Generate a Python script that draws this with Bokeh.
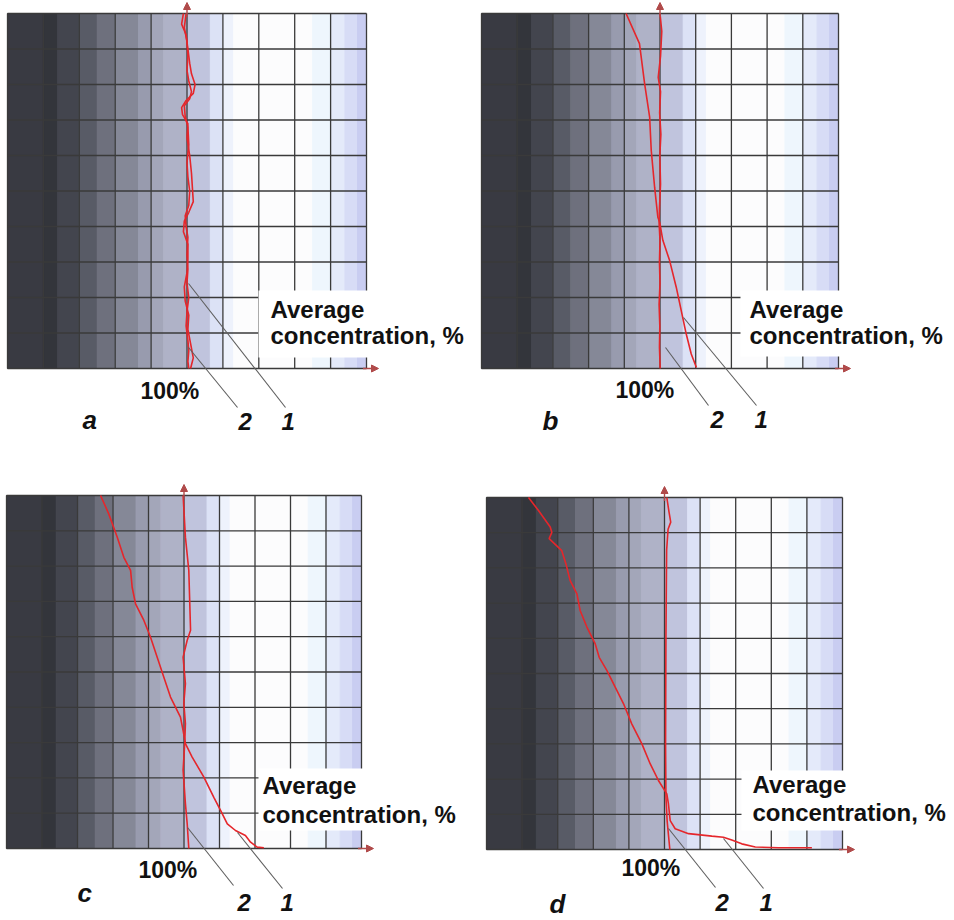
from bokeh.plotting import figure
from bokeh.models import Label, Arrow, NormalHead, BoxAnnotation, Range1d
from bokeh.layouts import gridplot
from bokeh.embed import file_html
from bokeh.resources import INLINE

# ---------------- data ----------------
GRID_X = [0, 20, 40, 60, 80, 100, 120, 140, 160, 180, 200]
GRID_Y = [0, 10, 20, 30, 40, 50, 60, 70, 80, 90, 100]
AXIS_TICK_LABEL = "100%"
AXIS_TITLE = ["Average", "concentration, %"]
CURVE_NAMES = ["1", "2"]
PANEL_LETTERS = ["a", "b", "c", "d"]

# panel a
a_y1 = [100, 97, 94, 90, 86, 83, 80, 77.5, 75.5, 73.5, 71.5, 69, 65, 60, 55, 51, 47, 44, 41.5, 38.5,
        35, 31, 27, 23, 19, 15, 11, 7, 3, 0]
a_x1 = [98.0, 97.0, 99.5, 100.5, 101.5, 102.5, 104.5, 103.5, 99.5, 97.0, 97.5, 100.5, 100.0, 101.5, 102.5,
        103.0, 103.5, 101.0, 98.5, 98.0, 100.5, 100.5, 100.0, 98.5, 99.0, 101.0, 100.5, 102.0, 103.5, 102.0]
a_y2 = [100, 96, 92, 88, 84, 81, 78, 76, 74, 71, 68, 63, 58, 54, 50, 46, 43, 40, 37, 32, 28, 24, 20,
        16, 12, 8, 5, 2, 0]
a_x2 = [99.5, 98.5, 100.0, 100.5, 100.0, 101.0, 102.5, 101.5, 98.5, 99.0, 100.5, 101.0, 100.0, 100.5,
        101.5, 101.0, 99.0, 99.5, 100.5, 100.0, 100.5, 100.0, 101.0, 100.0, 99.5, 100.5, 101.0, 100.5, 101.0]

# panel b
b_y1 = [100, 91.5, 80.2, 70.8, 61.4, 51.0, 42.6, 41.2, 36.1, 30.4, 22.9, 16.3, 9.7, 4.1, 0.3]
b_x1 = [81.0, 88.5, 91.4, 94.2, 95.1, 97.0, 98.8, 99.8, 101.6, 105.4, 109.1, 111.9, 114.7, 117.5, 120.4]
b_y2 = [100, 95, 88, 82, 78, 72, 66, 60, 52, 45, 41, 36, 30, 24, 18, 12, 6, 0]
b_x2 = [100.0, 101.0, 100.3, 99.0, 100.3, 99.8, 100.5, 99.9, 100.3, 99.7, 99.5, 100.0, 99.7, 100.0,
        99.5, 99.9, 99.7, 100.1]

# panel c
c_y1 = [100, 94.8, 88.2, 82.5, 78.8, 74.0, 69.3, 64.6, 59.9, 54.2, 48.6, 42.9, 37.2, 33.4, 29.7, 25.9,
        20.2, 14.5, 10.8, 7.0, 5.1, 3.7, 1.8, 0.4, 0.2]
c_x1 = [53.0, 57.6, 62.4, 66.1, 69.9, 70.8, 72.7, 77.4, 81.1, 84.9, 88.6, 92.4, 98.0, 99.5, 100.8, 104.6,
        111.2, 116.8, 120.6, 124.4, 129.0, 134.6, 137.5, 141.2, 145.0]
c_y2 = [100, 88.2, 78.8, 61.8, 59.0, 54.2, 46.7, 41.1, 35.4, 29.7, 22.2, 12.7, 7.0, 0]
c_x2 = [99.5, 100.8, 102.7, 103.7, 101.8, 99.5, 100.8, 99.9, 100.8, 100.4, 99.5, 100.8, 101.8, 102.7]

# panel d
d_y1 = [100.0, 96.3, 91.6, 90.1, 88.3, 84.9, 81.2, 76.4, 72.6, 67.9, 63.2, 58.4, 54.6, 50.9, 46.1, 41.4,
        35.7, 30.0, 24.3, 19.6, 15.8, 13.0, 8.2, 5.9, 4.5, 3.8, 3.5, 2.7, 1.6, 0.7, 0.5, 0.5]
d_x1 = [23.6, 29.2, 35.8, 36.7, 35.2, 42.3, 44.6, 47.0, 50.8, 52.6, 56.4, 61.1, 63.3, 67.6, 72.3, 77.0,
        81.6, 87.3, 92.0, 96.6, 101.3, 102.2, 103.2, 106.0, 113.5, 126.6, 133.1, 137.8, 143.4, 151.0,
        164.0, 182.8]
d_y2 = [100, 96, 93, 91, 85, 60, 30, 15, 8, 0]
d_x2 = [101.3, 102.5, 103.5, 102.0, 101.2, 100.8, 100.6, 100.8, 101.5, 103.0]

# ---------------- styles / layout ----------------
BAND_EDGES = [0, 20, 28, 40, 50, 60, 73, 80, 87, 100, 113, 120, 126, 170, 180, 188, 195, 200]
BAND_COLORS = ["#393a42", "#33353b", "#43454e", "#585b66", "#6e707d", "#858897", "#989bae", "#a3a6b9",
               "#afb2c7", "#c0c4dd", "#dce2f6", "#eef2fc", "#fcfcfd", "#eef6fd", "#e4eafa", "#d7dcf6",
               "#c9cdf1"]
RED = "#e5262b"
AXIS_RED = "#b04a4a"
GRID_COLOR = "#3a3a3a"
LEADER = "#5e5e5e"
FONT = "Liberation Sans"
TEXT_SHIFT = 8  # px correction so the rendered baseline lands where intended

CELL_W, CELL_H = 477, 460

# per panel: data-area geometry (px within its cell) and annotation positions (page px)
PANELS = {
    "a": dict(col=0, row=0, L=7, T=13, W=359, H=355, data=(a_x1, a_y1, a_x2, a_y2),
              box=(258, 290, 357), avg=(270, 317, 343), pct=(140, 398),
              letter=(82, 427), d2=(238, 429), d1=(281, 429),
              l1=(188, 283, 285, 407), l2=(188, 347, 237, 407)),
    "b": dict(col=1, row=0, L=4, T=13, W=357, H=355, data=(b_x1, b_y1, b_x2, b_y2),
              box=(740, 290, 356), avg=(749, 317, 343), pct=(615, 397),
              letter=(542, 428), d2=(710, 427), d1=(754, 427),
              l1=(683, 317, 756, 405), l2=(665, 347, 708, 405)),
    "c": dict(col=0, row=1, L=6, T=35, W=355, H=353, data=(c_x1, c_y1, c_x2, c_y2),
              box=(258, 768, 830), avg=(262, 793, 822), pct=(138, 877),
              letter=(77, 900), d2=(237, 910), d1=(280, 910),
              l1=(237, 832, 282, 888), l2=(187, 827, 233, 885)),
    "d": dict(col=1, row=1, L=9, T=37, W=356, H=352, data=(d_x1, d_y1, d_x2, d_y2),
              box=(741, 770, 830), avg=(752, 792, 820), pct=(621, 875),
              letter=(549, 911), d2=(715, 910), d1=(759, 910),
              l1=(723, 838, 763, 888), l2=(668, 828, 715, 887)),
}


def make_panel(letter):
    g = PANELS[letter]
    L, T, W, H = g["L"], g["T"], g["W"], g["H"]
    ox, oy = g["col"] * CELL_W, g["row"] * CELL_H
    x0, x1 = GRID_X[0], GRID_X[-1]
    y0, y1 = GRID_Y[0], GRID_Y[-1]

    def dx(px):  # page px -> data x
        return x0 + (px - ox - L) / W * (x1 - x0)

    def dy(py):  # page py -> data y
        return y0 + (T + H - (py - oy)) / H * (y1 - y0)

    p = figure(width=CELL_W, height=CELL_H,
               x_range=Range1d(dx(ox), dx(ox + CELL_W)), y_range=Range1d(dy(oy + CELL_H), dy(oy)),
               x_axis_location=None, y_axis_location=None, toolbar_location=None,
               output_backend="svg", min_border=0, outline_line_color=None,
               background_fill_color="white", border_fill_color="white")
    p.xgrid.visible = False
    p.ygrid.visible = False

    # background bands
    p.quad(left=BAND_EDGES[:-1], right=BAND_EDGES[1:], bottom=y0, top=y1,
           fill_color=BAND_COLORS, line_color=BAND_COLORS, line_width=1, level="image")

    # grid lines (incl. outline of the data area)
    p.segment(x0=GRID_X, y0=y0, x1=GRID_X, y1=y1, line_color=GRID_COLOR, line_width=1.3,
              level="underlay")
    p.segment(x0=x0, y0=GRID_Y, x1=x1, y1=GRID_Y, line_color=GRID_COLOR, line_width=1.3,
              level="underlay")

    # curves
    xa, ya, xb, yb = g["data"]
    p.line(xa, ya, line_color=RED, line_width=1.6)
    p.line(xb, yb, line_color=RED, line_width=1.6)

    # axis arrows
    p.add_layout(Arrow(end=NormalHead(size=7, fill_color=AXIS_RED, line_color=AXIS_RED),
                       x_start=100, y_start=y1 - 1, x_end=100, y_end=dy(oy + T - 11),
                       line_color=AXIS_RED, line_width=1.4))
    p.add_layout(Arrow(end=NormalHead(size=7, fill_color=AXIS_RED, line_color=AXIS_RED),
                       x_start=x1 - 2, y_start=y0, x_end=dx(ox + L + W + 12), y_end=y0,
                       line_color=AXIS_RED, line_width=1.4))

    # white box behind axis title
    bx, btop, bbot = g["box"]
    p.add_layout(BoxAnnotation(left=dx(bx), right=dx(bx + 215), bottom=dy(bbot), top=dy(btop),
                               fill_color="white", fill_alpha=1.0, line_color=None))

    # leader lines
    for key in ("l1", "l2"):
        sx, sy, ex, ey = g[key]
        p.add_layout(Arrow(end=None, x_start=dx(sx), y_start=dy(sy), x_end=dx(ex), y_end=dy(ey),
                           line_color=LEADER, line_width=1.1))

    def lab(text, pos, size, style):
        p.add_layout(Label(x=dx(pos[0]), y=dy(pos[1] - TEXT_SHIFT), text=text, text_align="left",
                           text_baseline="alphabetic", text_font=FONT,
                           text_font_style=style, text_font_size=size, text_color="#111111"))

    ax, b1, b2 = g["avg"]
    lab(AXIS_TITLE[0], (ax, b1), "24px", "bold")
    lab(AXIS_TITLE[1], (ax, b2), "24px", "bold")
    lab(AXIS_TICK_LABEL, g["pct"], "23px", "bold")
    lab(letter, g["letter"], "26px", "bold italic")
    lab(CURVE_NAMES[1], g["d2"], "24px", "bold italic")
    lab(CURVE_NAMES[0], g["d1"], "24px", "bold italic")
    return p


figs = [make_panel(k) for k in PANEL_LETTERS]
grid = gridplot([[figs[0], figs[1]], [figs[2], figs[3]]], toolbar_location=None)

with open("out.html", "w") as f:
    f.write(file_html(grid, INLINE))
